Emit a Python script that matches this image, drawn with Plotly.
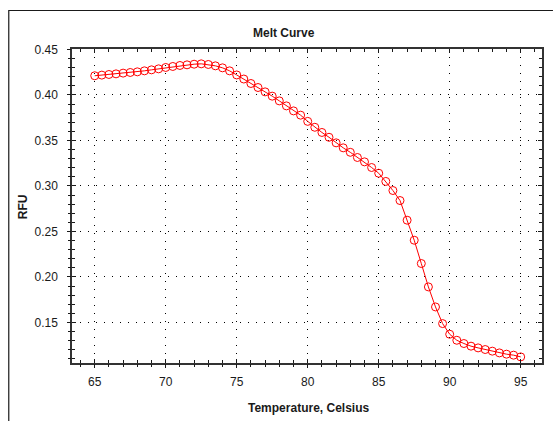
import plotly.graph_objects as go

temperature = [65.0 + 0.5 * i for i in range(61)]
rfu = [
    0.4211, 0.4218, 0.4225, 0.4232, 0.4240, 0.4247, 0.4254, 0.4265, 0.4276, 0.4287,
    0.4302, 0.4313, 0.4324, 0.4331, 0.4338, 0.4342, 0.4335, 0.4320, 0.4298, 0.4265,
    0.4220, 0.4175, 0.4126, 0.4082, 0.4034, 0.3987, 0.3935, 0.3880, 0.3825, 0.3778,
    0.3710, 0.3645, 0.3588, 0.3535, 0.3474, 0.3419, 0.3370, 0.3313, 0.3265, 0.3203,
    0.3140, 0.3050, 0.2950, 0.2840, 0.2624, 0.2404, 0.2148, 0.1891, 0.1671, 0.1488,
    0.1371, 0.1305, 0.1269, 0.1240, 0.1221, 0.1203, 0.1185, 0.1166, 0.1152, 0.1141,
    0.1122,
]
x_ticks = [65, 70, 75, 80, 85, 90, 95]
y_ticks = [0.15, 0.20, 0.25, 0.30, 0.35, 0.40, 0.45]
y_tick_labels = ["0.15", "0.20", "0.25", "0.30", "0.35", "0.40", "0.45"]
x_range = [63.4, 96.5]
y_range = [0.1055, 0.4505]

FONT = "Liberation Sans, Arial, sans-serif"
RED = "#FF0000"
INK = "#1a1a1a"

fig = go.Figure()
fig.add_trace(go.Scatter(
    x=temperature, y=rfu, mode="lines+markers",
    line=dict(color=RED, width=1),
    marker=dict(symbol="circle-open", size=8, color=RED, line=dict(width=1, color=RED)),
    showlegend=False, hoverinfo="x+y",
))
# helper trace so the outer-tick axes are drawn
fig.add_trace(go.Scatter(
    x=temperature[:1], y=rfu[:1], xaxis="x2", yaxis="y2", mode="markers",
    marker=dict(opacity=0), showlegend=False, hoverinfo="skip",
))

W, H = 555, 421
L, R, T, B = 72, 11, 49, 58

grid = dict(showgrid=True, gridcolor="#000000", gridwidth=1, griddash="1px,7px")

fig.update_layout(
    width=W, height=H,
    margin=dict(l=L, r=R, t=T, b=B, pad=0),
    paper_bgcolor="white", plot_bgcolor="white",
    font=dict(family=FONT, size=12, color=INK),
    xaxis=dict(
        range=x_range, tickvals=x_ticks, ticktext=[str(v) for v in x_ticks],
        ticks="inside", ticklen=4, tickwidth=1, tickcolor=INK,
        minor=dict(dtick=1, ticks="inside", ticklen=3, tickcolor=INK, showgrid=False),
        showline=True, linecolor="#333333", linewidth=1.5, mirror="ticks",
        zeroline=False, tickfont=dict(size=12, family=FONT, color=INK),
        ticklabelstandoff=7,
        **grid,
    ),
    yaxis=dict(
        range=y_range, tickvals=y_ticks, ticktext=y_tick_labels,
        ticks="inside", ticklen=4, tickwidth=1, tickcolor=INK,
        minor=dict(dtick=0.01, tick0=0.15, ticks="inside", ticklen=3, tickcolor=INK, showgrid=False),
        showline=True, linecolor="#333333", linewidth=1.5, mirror="ticks",
        zeroline=False, tickfont=dict(size=12, family=FONT, color=INK),
        ticklabelstandoff=10,
        **grid,
    ),
    xaxis2=dict(
        range=x_range, overlaying="x", side="bottom", anchor="y2",
        tickvals=x_ticks, showticklabels=False,
        ticks="outside", ticklen=4, tickwidth=1, tickcolor=INK,
        minor=dict(dtick=1, ticks="outside", ticklen=3, tickcolor=INK, showgrid=False),
        showline=False, showgrid=False, zeroline=False,
    ),
    yaxis2=dict(
        range=y_range, overlaying="y", side="left", anchor="x2",
        tickvals=y_ticks, showticklabels=False,
        ticks="outside", ticklen=4, tickwidth=1, tickcolor=INK,
        minor=dict(dtick=0.01, tick0=0.15, ticks="outside", ticklen=3, tickcolor=INK, showgrid=False),
        showline=False, showgrid=False, zeroline=False,
    ),
)

pw = W - L - R
ph = H - T - B
def px(xp):
    return (xp - L) / pw
def py(yp):
    return (H - B - yp) / ph

# outer frame (left + top edges)
fig.add_shape(type="path", xref="paper", yref="paper",
              path=f"M {px(8.5)} {py(421)} L {px(8.5)} {py(10.5)} L {px(555)} {py(10.5)}",
              line=dict(color=INK, width=1.2))

common = dict(xref="paper", yref="paper", showarrow=False,
              xanchor="center", yanchor="middle",
              font=dict(size=12, family=FONT, color=INK))
fig.add_annotation(text="<b>Melt Curve</b>", x=px(285), y=py(33), **common)
fig.add_annotation(text="<b>Temperature, Celsius</b>", x=px(310), y=py(408), **common)
fig.add_annotation(text="<b>RFU</b>", x=px(23), y=py(207), textangle=-90, **common)

fig.write_html("out.html")
